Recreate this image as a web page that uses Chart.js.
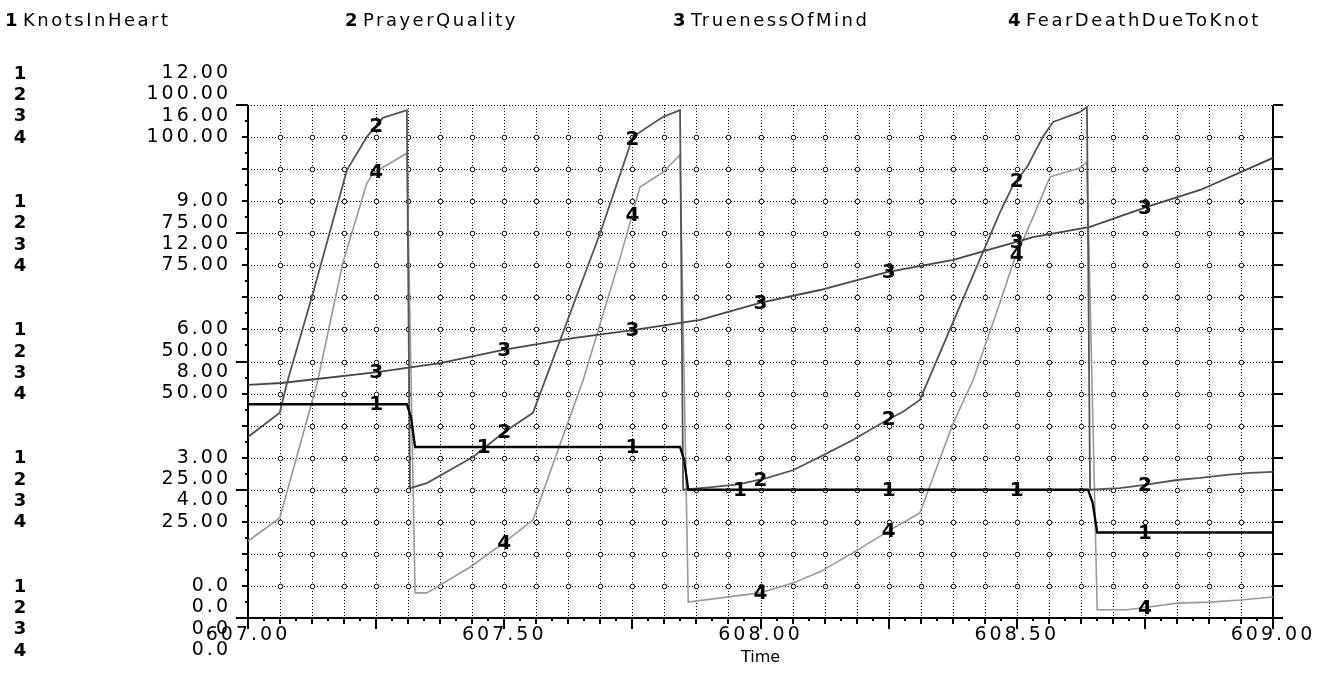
<!DOCTYPE html>
<html>
<head>
<meta charset="utf-8">
<title>KnotsInHeart</title>
<script src="https://cdn.jsdelivr.net/npm/chart.js@4.4.0/dist/chart.umd.min.js"></script>
<style>
  html, body { margin: 0; padding: 0; background: #fff; }
  #wrap { width: 1333px; height: 694px; position: relative; }
</style>
</head>
<body>
<div id="wrap"><canvas id="stella"></canvas></div>
<script>
// names shown in the header, and the top of each series' own scale (all start at 0)
const seriesNames = ['KnotsInHeart', 'PrayerQuality', 'TruenessOfMind', 'FearDeathDueToKnot'];
const seriesMax = [12, 100, 16, 100];

// 1 KnotsInHeart
const knotsTime  = [607.000, 607.310, 607.318, 607.326, 607.843, 607.851, 607.859, 608.639, 608.648, 608.657, 609.000];
const knotsValue = [5, 5, 4.7, 4, 4, 3.7, 3, 3, 2.7, 2, 2];

// 2 PrayerQuality
const prayerTime  = [607.000, 607.062, 607.076, 607.127, 607.193, 607.232, 607.263, 607.310, 607.316,
                     607.349, 607.439, 607.498, 607.556, 607.687, 607.751, 607.810, 607.843, 607.849,
                     607.905, 607.960, 608.013, 608.063, 608.116, 608.180, 608.247, 608.278, 608.311,
                     608.467, 608.493, 608.520, 608.551, 608.571, 608.623, 608.637, 608.643,
                     608.701, 608.746, 608.813, 608.858, 608.910, 608.955, 609.000];
const prayerValue = [35.3, 40.0, 45.8, 63.4, 87.3, 93.8, 97.5, 99.0, 25.3,
                     26.3, 31.4, 36.1, 40.0, 75.0, 93.8, 97.7, 99.0, 25.0,
                     25.5, 26.1, 27.3, 28.8, 31.4, 34.7, 38.6, 40.2, 42.5,
                     79.0, 84.4, 87.9, 93.8, 96.7, 98.6, 99.6, 25.0,
                     25.3, 25.9, 26.9, 27.3, 27.9, 28.3, 28.5];

// 3 TruenessOfMind
const truenessTime  = [607.000, 607.066, 607.252, 607.375, 607.498, 607.634, 607.751, 607.882, 607.999,
                       608.116, 608.247, 608.376, 608.532, 608.643, 608.754, 608.858, 609.000];
const truenessValue = [7.27, 7.33, 7.67, 7.95, 8.36, 8.73, 8.98, 9.30, 9.83,
                       10.23, 10.79, 11.17, 11.88, 12.20, 12.82, 13.35, 14.35];

// 4 FearDeathDueToKnot
const fearTime  = [607.000, 607.062, 607.135, 607.185, 607.232, 607.244, 607.310, 607.326,
                   607.349, 607.433, 607.498, 607.556, 607.654, 607.726, 607.765, 607.810, 607.843, 607.859,
                   607.999, 608.063, 608.116, 608.180, 608.247, 608.311, 608.376, 608.415, 608.467, 608.493,
                   608.532, 608.565, 608.623, 608.637, 608.657,
                   608.715, 608.754, 608.813, 608.877, 608.936, 609.000];
const fearValue = [15.0, 19.5, 45.8, 69.2, 84.8, 86.7, 90.6, 4.9,
                   4.9, 9.9, 14.6, 19.1, 46.4, 70.2, 84.0, 86.9, 90.3, 3.1,
                   4.9, 6.8, 9.0, 12.7, 16.8, 20.5, 38.0, 46.4, 61.4, 69.2,
                   78.2, 86.0, 87.7, 88.9, 1.6,
                   1.6, 2.1, 2.9, 3.1, 3.5, 4.1];

// times where the series number is written on its curve
const labelTimes = [
  [607.25, 607.46, 607.75, 607.96, 608.25, 608.5, 608.75],
  [607.25, 607.5, 607.75, 608.0, 608.25, 608.5, 608.75],
  [607.25, 607.5, 607.75, 608.0, 608.25, 608.5, 608.75],
  [607.25, 607.5, 607.75, 608.0, 608.25, 608.5, 608.75]
];

const seriesTimes = [knotsTime, prayerTime, truenessTime, fearTime];
const seriesValues = [knotsValue, prayerValue, truenessValue, fearValue];
const seriesColors = ['#000000', '#555555', '#474747', '#999999'];
const seriesWidths = [2.3, 1.8, 1.8, 1.6];

const FONT = '"DejaVu Sans", "Liberation Sans", sans-serif';

function fmt(v) {
  return v === 0 ? '0.0' : v.toFixed(2);
}

function valueAt(times, values, t) {
  for (let i = 1; i < times.length; i++) {
    if (t <= times[i]) {
      let f = (t - times[i - 1]) / (times[i] - times[i - 1]);
      return values[i - 1] + f * (values[i] - values[i - 1]);
    }
  }
  return values[values.length - 1];
}

const stellaPlugin = {
  id: 'stella',
  beforeDraw(chart) {
    chart.ctx.letterSpacing = '3px';
  },
  beforeDatasetsDraw(chart) {
    const ctx = chart.ctx;
    const x = chart.scales.x, y = chart.scales.y;
    const area = chart.chartArea;
    const top = Math.round(area.top), bottom = Math.round(area.bottom);
    const left = Math.round(area.left), right = Math.round(area.right);
    ctx.save();
    ctx.letterSpacing = '0px';

    // dotted grid, one line every 1/16 of each axis
    ctx.fillStyle = '#000';
    for (let i = 1; i < 32; i++) {
      let px = Math.round(x.getPixelForValue(607 + i * 0.0625));
      for (let py = top; py < bottom; py += 3) ctx.fillRect(px, py, 1, 1);
    }
    for (let j = 1; j <= 16; j++) {
      let py = Math.round(y.getPixelForValue(j));
      for (let px = left; px < right; px += 3) ctx.fillRect(px, py, 1, 1);
    }

    // little circles where the grid lines cross
    ctx.strokeStyle = '#000';
    ctx.fillStyle = '#fff';
    ctx.lineWidth = 1;
    for (let i = 1; i < 32; i++) {
      let px = Math.round(x.getPixelForValue(607 + i * 0.0625)) + 0.5;
      for (let j = 1; j < 16; j++) {
        let py = Math.round(y.getPixelForValue(j)) + 0.5;
        ctx.beginPath();
        ctx.arc(px, py, 2.3, 0, Math.PI * 2);
        ctx.fill();
        ctx.stroke();
      }
    }

    // solid axes
    ctx.strokeStyle = '#000';
    ctx.lineWidth = 2;
    ctx.beginPath();
    ctx.moveTo(area.left, area.top);
    ctx.lineTo(area.left, area.bottom);
    ctx.lineTo(area.right, area.bottom);
    ctx.moveTo(area.right, area.top);
    ctx.lineTo(area.right, area.bottom);
    ctx.stroke();

    // tick marks
    ctx.beginPath();
    for (let k = 0; k <= 32; k++) {
      let py = Math.round(y.getPixelForValue(k / 2));
      let len = k % 8 === 0 ? 12 : (k % 2 === 0 ? 6 : 3);
      ctx.moveTo(area.left, py);
      ctx.lineTo(area.left - len, py);
      if (k % 2 === 0) {
        ctx.moveTo(area.right, py);
        ctx.lineTo(area.right + 10, py);
      }
    }
    for (let k = 0; k <= 64; k++) {
      let px = Math.round(x.getPixelForValue(607 + k / 32));
      let len = k % 8 === 0 ? 11 : (k % 2 === 0 ? 6 : 3);
      ctx.moveTo(px, area.bottom);
      ctx.lineTo(px, area.bottom + len);
    }
    ctx.stroke();
    ctx.restore();
  },
  afterDatasetsDraw(chart) {
    const ctx = chart.ctx;
    const x = chart.scales.x, y = chart.scales.y;
    const area = chart.chartArea;
    ctx.save();
    ctx.letterSpacing = '0px';
    ctx.fillStyle = '#000';
    ctx.textAlign = 'center';
    ctx.textBaseline = 'middle';

    // series numbers written on the curves
    ctx.font = 'bold 20px ' + FONT;
    for (let s = 0; s < 4; s++) {
      const sc = chart.scales['y' + (s + 1)];
      labelTimes[s].forEach(t => {
        let v = valueAt(seriesTimes[s], seriesValues[s], t);
        ctx.fillText(String(s + 1), x.getPixelForValue(t), sc.getPixelForValue(v) + 1);
      });
    }

    // series numbers in front of each block of scale values
    ctx.font = 'bold 18px ' + FONT;
    for (let j = 0; j <= 16; j += 4) {
      let py = y.getPixelForValue(j);
      for (let s = 0; s < 4; s++) {
        ctx.fillText(String(s + 1), 20, py + (s - 1.5) * 21.3 + 1);
      }
    }

    // header
    const headX = [5, 345, 673, 1008];
    ctx.textAlign = 'left';
    for (let s = 0; s < 4; s++) {
      ctx.font = 'bold 18px ' + FONT;
      ctx.letterSpacing = '0px';
      ctx.fillText(String(s + 1), headX[s], 21);
      ctx.font = '18px ' + FONT;
      ctx.letterSpacing = '2.5px';
      ctx.fillText(seriesNames[s], headX[s] + 18, 21);
    }

    // axis title
    ctx.letterSpacing = '0px';
    ctx.textAlign = 'center';
    ctx.font = '16px ' + FONT;
    ctx.fillText('Time', (area.left + area.right) / 2, 658);
    ctx.restore();
  },
  afterDraw(chart) {
    chart.ctx.letterSpacing = '0px';
  }
};

const datasets = seriesNames.map((name, s) => ({
  label: name,
  data: seriesTimes[s].map((t, i) => ({ x: t, y: seriesValues[s][i] })),
  yAxisID: 'y' + (s + 1),
  borderColor: seriesColors[s],
  borderWidth: seriesWidths[s],
  pointRadius: 0,
  tension: 0,
  fill: false
}));

const hiddenAxis = max => ({ type: 'linear', display: false, min: 0, max: max });

const ctx = document.getElementById('stella').getContext('2d');
new Chart(ctx, {
  type: 'line',
  data: { datasets: datasets },
  options: {
    responsive: true,
    maintainAspectRatio: false,
    animation: false,
    layout: { padding: { top: 105, right: 60, left: 0, bottom: 0 } },
    plugins: {
      legend: { display: false },
      tooltip: { enabled: false }
    },
    scales: {
      x: {
        type: 'linear',
        min: 607,
        max: 609,
        grid: { display: false, drawTicks: false },
        border: { display: false },
        ticks: {
          stepSize: 0.0625,
          autoSkip: false,
          maxRotation: 0,
          minRotation: 0,
          padding: 6,
          color: '#000',
          font: { family: FONT, size: 19 },
          callback: v => Math.abs(v * 2 - Math.round(v * 2)) < 1e-6 ? v.toFixed(2) : ''
        },
        afterFit: scale => { scale.height = 76; }
      },
      y: {
        type: 'linear',
        position: 'left',
        min: 0,
        max: 16,
        grid: { display: false, drawTicks: false },
        border: { display: false },
        ticks: {
          stepSize: 1,
          autoSkip: false,
          padding: 17,
          color: '#000',
          font: { family: FONT, size: 19, lineHeight: '21.3px' },
          callback: v => v % 4 === 0 ? seriesMax.map(m => fmt(m * v / 16)) : ''
        },
        afterFit: scale => { scale.width = 248; }
      },
      y1: hiddenAxis(seriesMax[0]),
      y2: hiddenAxis(seriesMax[1]),
      y3: hiddenAxis(seriesMax[2]),
      y4: hiddenAxis(seriesMax[3])
    }
  },
  plugins: [stellaPlugin]
});
</script>
</body>
</html>
